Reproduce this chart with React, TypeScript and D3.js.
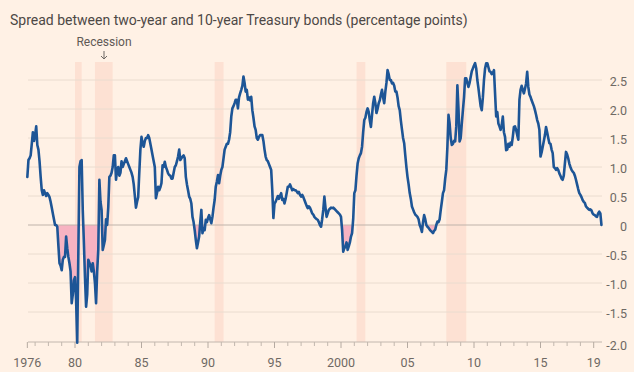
import React from "react";
import * as d3 from "d3";

// ---- Data (monthly average 10y-2y spread, percentage points) ----
const startYear = 1976;
const startMonth = 6; // June 1976

const spread1970s = [
  // 1976 Jun-Dec
  0.83, 1.12, 1.15, 1.2, 1.4, 1.6, 1.45,
  // 1977
  1.55, 1.7, 1.38, 1.3, 1.1, 0.83, 0.6, 0.52, 0.6, 0.55, 0.5, 0.55,
  // 1978
  0.52, 0.48, 0.4, 0.3, 0.2, 0.1, 0.0, 0.0, -0.03, -0.35, -0.66, -0.7,
  // 1979
  -0.78, -0.6, -0.55, -0.55, -0.2, -0.4, -0.55, -0.66, -0.8, -1.35, -1.2, -0.95,
];
const spread1980s = [
  -0.9, -1.3, -2.03, -0.5, 1.0, 1.1, 1.12, 0.26, -0.3, -0.9, -1.41, -1.2,
  -0.6, -0.65, -0.7, -0.8, -0.66, -0.8, -1.0, -1.35, -0.8, -0.43, 0.78, 0.4,
  0.26, -0.43, -0.35, -0.26, 0.1, 0.0, 0.3, 0.83, 0.85, 0.9, 1.0, 1.2,
  1.2, 0.78, 0.95, 1.0, 0.85, 0.9, 1.1, 1.0, 1.05, 1.1, 1.15, 1.1,
  1.05, 1.0, 0.95, 0.9, 0.83, 0.7, 0.5, 0.3, 0.4, 0.48, 0.9, 1.3,
  1.52, 1.4, 1.35, 1.45, 1.5, 1.5, 1.55, 1.5, 1.4, 1.3, 1.2, 1.1,
  1.0, 0.46, 0.55, 0.66, 0.6, 0.65, 0.72, 1.03, 1.0, 1.09, 1.0, 0.95,
  0.89, 0.86, 0.85, 0.8, 0.8, 0.9, 1.0, 1.03, 1.1, 1.18, 1.3, 1.12,
  1.15, 1.18, 1.2, 1.15, 0.83, 0.7, 0.6, 0.49, 0.45, 0.37, 0.14, 0.05,
  -0.09, -0.26, -0.4, -0.3, -0.2, 0.05, 0.26, -0.14, -0.05, -0.09, 0.09, 0.05,
];
const spread1990s = [
  0.12, 0.17, 0.1, 0.03, 0.14, 0.3, 0.43, 0.66, 0.75, 0.86, 0.72, 0.85,
  0.95, 1.0, 1.15, 1.3, 1.35, 1.4, 1.4, 1.47, 1.6, 1.87, 2.01, 2.05,
  2.1, 2.16, 2.16, 2.01, 2.2, 2.27, 2.33, 2.4, 2.56, 2.45, 2.3, 2.33,
  2.16, 2.2, 2.15, 2.21, 1.98, 1.85, 1.7, 1.64, 1.5, 1.47, 1.52, 1.55,
  1.55, 1.55, 1.45, 1.3, 1.18, 1.12, 1.1, 1.05, 1.0, 0.95, 0.6, 0.12,
  0.37, 0.4, 0.45, 0.5, 0.45, 0.5, 0.55, 0.43, 0.45, 0.37, 0.45, 0.55,
  0.66, 0.66, 0.7, 0.65, 0.6, 0.62, 0.6, 0.6, 0.58, 0.55, 0.57, 0.52,
  0.49, 0.52, 0.48, 0.43, 0.38, 0.33, 0.29, 0.32, 0.3, 0.25, 0.2, 0.18,
  0.14, 0.12, 0.1, 0.09, 0.05, 0.0, -0.03, 0.1, 0.26, 0.49, 0.3, 0.14,
  0.2, 0.26, 0.28, 0.3, 0.29, 0.3, 0.28, 0.26, 0.24, 0.22, 0.2, 0.18,
];
const spread2000s = [
  0.14, -0.09, -0.46, -0.4, -0.37, -0.3, -0.43, -0.37, -0.3, -0.2, -0.14, 0.1,
  0.55, 0.6, 0.85, 1.06, 1.15, 1.2, 1.24, 1.35, 1.6, 1.81, 1.85, 1.95,
  2.01, 1.95, 1.8, 1.69, 1.9, 2.1, 2.21, 2.1, 1.93, 2.0, 2.1, 2.15,
  2.25, 2.33, 2.2, 2.1, 2.3, 2.45, 2.67, 2.6, 2.5, 2.5, 2.44, 2.45,
  2.4, 2.3, 2.3, 2.2, 2.05, 1.98, 1.8, 1.65, 1.5, 1.41, 1.2, 1.0,
  0.83, 0.7, 0.55, 0.45, 0.32, 0.27, 0.22, 0.18, 0.16, 0.14, 0.1, 0.0,
  -0.05, -0.12, 0.05, 0.17, 0.1, 0.0, -0.03, -0.05, -0.08, -0.1, -0.12, -0.14,
  -0.1, -0.08, 0.0, 0.06, 0.05, 0.1, 0.26, 0.4, 0.55, 0.6, 0.8, 0.95,
  1.35, 1.9, 1.75, 1.5, 1.38, 1.4, 1.45, 1.44, 1.7, 2.41, 2.0, 1.44,
  1.5, 1.75, 1.98, 2.2, 2.53, 2.53, 2.45, 2.38, 2.45, 2.55, 2.65, 2.7,
];
const spread2010s = [
  2.75, 2.79, 2.7, 2.5, 2.36, 2.2, 2.05, 1.98, 2.2, 2.5, 2.7, 2.79,
  2.79, 2.72, 2.65, 2.64, 2.6, 2.62, 2.67, 2.27, 1.87, 1.95, 1.75, 1.7,
  1.64, 1.72, 1.87, 1.6, 1.52, 1.29, 1.3, 1.4, 1.35, 1.42, 1.38, 1.52,
  1.69, 1.7, 1.64, 1.55, 1.47, 2.16, 2.33, 2.4, 2.33, 2.27, 2.35, 2.44,
  2.64, 2.38, 2.25, 2.21, 2.15, 2.1, 2.05, 1.98, 1.9, 1.81, 1.75, 1.64,
  1.18, 1.25, 1.35, 1.45, 1.55, 1.69, 1.6, 1.5, 1.41, 1.4, 1.3, 1.24,
  1.0, 0.98, 0.95, 0.98, 0.95, 0.89, 0.85, 0.8, 0.78, 0.85, 1.06, 1.26,
  1.22, 1.15, 1.06, 1.0, 0.95, 0.92, 0.9, 0.85, 0.78, 0.7, 0.62, 0.55,
  0.52, 0.48, 0.43, 0.4, 0.38, 0.32, 0.3, 0.28, 0.26, 0.27, 0.25, 0.2,
  0.18, 0.17, 0.15, 0.14, 0.2, 0.23, 0.2, 0.0,
];

// Recessions [start, end] as decimal years
const recessionStarts = [1980.0, 1981.5, 1990.5, 2001.17, 2007.92];
const recessionEnds = [1980.5, 1982.83, 1991.17, 2001.83, 2009.42];

const yTicks = [2.5, 2.0, 1.5, 1.0, 0.5, 0, -0.5, -1.0, -1.5, -2.0];
const yTickLabels = ["2.5", "2.0", "1.5", "1.0", "0.5", "0", "-0.5", "-1.0", "-1.5", "-2.0"];
const xMajorYears = [1980, 1985, 1990, 1995, 2000, 2005, 2010, 2015, 2019];
const xMajorLabels = ["80", "85", "90", "95", "2000", "05", "10", "15", "19"];
const firstLabel = "1976";

const title = "Spread between two-year and 10-year Treasury bonds (percentage points)";
const recessionLabel = "Recession";

// ---- Layout ----
const W = 634;
const H = 372;
const plotLeft = 28;
const plotRight = 602;
const FONT = "Roboto, 'Open Sans', sans-serif";

export default function App() {
  const values = [...spread1970s, ...spread1980s, ...spread1990s, ...spread2000s, ...spread2010s];
  const data = values.map((v, i) => {
    const m = startMonth - 1 + i;
    return { t: startYear + m / 12, v };
  });
  const dataStart = data[0].t;

  const x = d3.scaleLinear().domain([1980, 2019]).range([75, 593.7]);
  const y = d3.scaleLinear().domain([-2, 2.5]).range([341, 80]);
  const axisY = 342;

  const line = d3
    .line<{ t: number; v: number }>()
    .x((d) => x(d.t))
    .y((d) => y(d.v))
    .curve(d3.curveLinear);
  const area = d3
    .area<{ t: number; v: number }>()
    .x((d) => x(d.t))
    .y0(y(0))
    .y1((d) => y(d.v));

  const minorYears = d3.range(1977, 2019).filter((yr) => !xMajorYears.includes(yr));

  return (
    <svg
      width={W}
      height={H}
      style={{ position: "absolute", left: 0, top: 0, display: "block" }}
      fontFamily={FONT}
    >
      <defs>
        <clipPath id="below0">
          <rect x={0} y={y(0)} width={W} height={H - y(0)} />
        </clipPath>
      </defs>
      <rect x={0} y={0} width={W} height={H} fill="#fff1e5" />

      <text x={10} y={25} fontSize={14} fill="#4d4845">
        {title}
      </text>

      {/* recession bands */}
      {recessionStarts.map((s, i) => (
        <rect
          key={"r" + i}
          x={x(s)}
          y={62}
          width={x(recessionEnds[i]) - x(s)}
          height={axisY - 62}
          fill="#fde1d3"
        />
      ))}

      {/* gridlines */}
      {yTicks
        .filter((v) => v !== 0 && v !== -2)
        .map((v) => (
          <line
            key={"g" + v}
            x1={plotLeft}
            x2={plotRight}
            y1={y(v)}
            y2={y(v)}
            stroke="#eadccf"
            strokeWidth={1}
          />
        ))}

      {/* negative area */}
      <path d={area(data) || ""} fill="#f7b3c2" clipPath="url(#below0)" />

      {/* zero line */}
      <line x1={plotLeft} x2={plotRight} y1={y(0)} y2={y(0)} stroke="#bfb3aa" strokeWidth={1} />

      {/* y labels */}
      {yTicks.map((v, i) => (
        <text
          key={"yl" + v}
          x={627}
          y={y(v) + (v === -2 ? 5 : 2)}
          dy="0.35em"
          textAnchor="end"
          fontSize={12.5}
          fill="#6f6964"
        >
          {yTickLabels[i]}
        </text>
      ))}

      {/* x axis */}
      <line x1={plotLeft} x2={plotRight} y1={axisY} y2={axisY} stroke="#c2b7ae" strokeWidth={1} />
      {minorYears.map((yr) => (
        <line key={"mt" + yr} x1={x(yr)} x2={x(yr)} y1={axisY} y2={axisY + 4} stroke="#c2b7ae" />
      ))}
      {[dataStart, ...xMajorYears].map((yr) => (
        <line key={"Mt" + yr} x1={x(yr)} x2={x(yr)} y1={axisY} y2={axisY + 6} stroke="#b5aaa1" />
      ))}
      {[dataStart, ...xMajorYears].map((yr, i) => (
        <text
          key={"xl" + yr}
          x={x(yr)}
          y={367}
          textAnchor="middle"
          fontSize={12.5}
          fill="#6f6964"
        >
          {i === 0 ? firstLabel : xMajorLabels[i - 1]}
        </text>
      ))}

      {/* main line */}
      <path
        d={line(data) || ""}
        fill="none"
        stroke="#1d5596"
        strokeWidth={2.6}
        strokeLinejoin="round"
        strokeLinecap="round"
      />

      {/* recession annotation */}
      <text x={104} y={46} textAnchor="middle" fontSize={12} fill="#5f5955">
        {recessionLabel}
      </text>
      <path d="M104,51 L104,59 M101,56 L104,59 L107,56" stroke="#6f6964" strokeWidth={1} fill="none" />
    </svg>
  );
}
